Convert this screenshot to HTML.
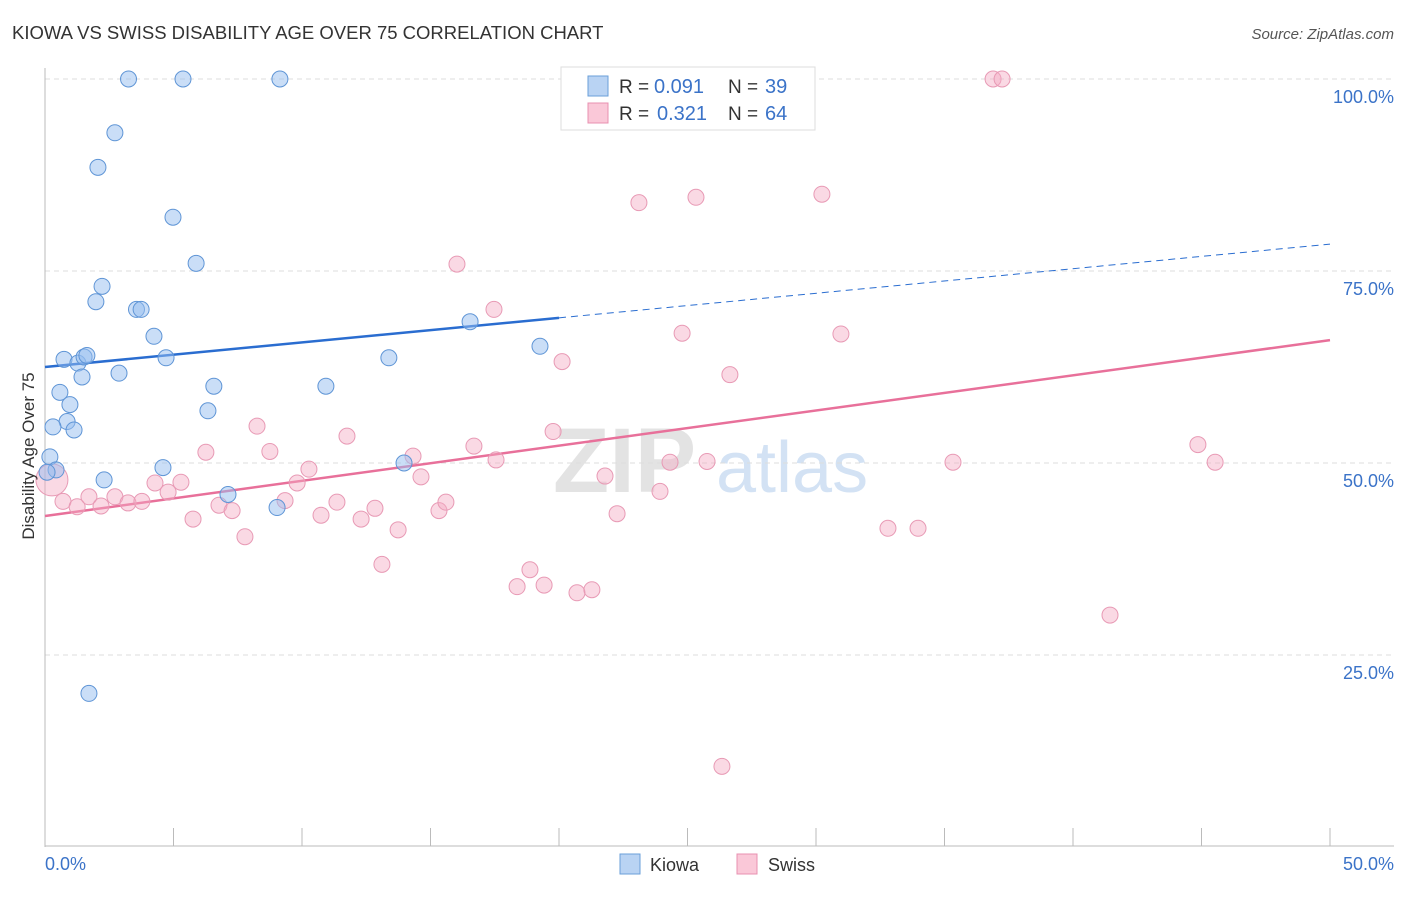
<!DOCTYPE html>
<html><head><meta charset="utf-8"><style>
body{margin:0;background:#fff;font-family:"Liberation Sans",sans-serif;}
svg text{font-family:"Liberation Sans",sans-serif;}
</style></head><body>
<svg id="chart" width="1406" height="892">
<text x="12" y="39" font-size="18.5" fill="#333">KIOWA VS SWISS DISABILITY AGE OVER 75 CORRELATION CHART</text>
<text x="1394" y="39" font-size="15" fill="#555" text-anchor="end" font-style="italic">Source: ZipAtlas.com</text>
<g>
<text x="553" y="492" font-size="92" fill="#ddd" font-family="Liberation Serif" font-weight="bold" opacity="0.8">ZIP</text>
<text x="716" y="492" font-size="72" fill="#c9dcf2" opacity="0.8">atlas</text>
</g>
<g id="grid"></g>
<g id="axes"></g>
<g id="trend"></g>
<g id="pts"></g>
<text x="0" y="0" transform="translate(34,456) rotate(-90)" font-size="17" fill="#333" text-anchor="middle">Disability Age Over 75</text>
<text x="45" y="870" font-size="18" fill="#3b73c8">0.0%</text>
<text x="1394" y="870" font-size="18" fill="#3b73c8" text-anchor="end">50.0%</text>
<g>
<rect x="561" y="67" width="254" height="63" fill="#fff" stroke="#ddd"/>
<rect x="588" y="76" width="20" height="20" fill="#b9d3f3" stroke="#6a9fd8"/>
<rect x="588" y="103" width="20" height="20" fill="#fac8d8" stroke="#e890b0"/>
<text x="619" y="93" font-size="19" fill="#333">R =</text>
<text x="654" y="93" font-size="20" fill="#3b73c8">0.091</text>
<text x="728" y="93" font-size="19" fill="#333">N =</text>
<text x="765" y="93" font-size="20" fill="#3b73c8">39</text>
<text x="619" y="120" font-size="19" fill="#333">R =</text>
<text x="657" y="120" font-size="20" fill="#3b73c8">0.321</text>
<text x="728" y="120" font-size="19" fill="#333">N =</text>
<text x="765" y="120" font-size="20" fill="#3b73c8">64</text>
</g>
<g>
<rect x="620" y="854" width="20" height="20" fill="#b9d3f3" stroke="#6a9fd8"/>
<text x="650" y="871" font-size="18" fill="#333">Kiowa</text>
<rect x="737" y="854" width="20" height="20" fill="#fac8d8" stroke="#e890b0"/>
<text x="768" y="871" font-size="18" fill="#333">Swiss</text>
</g>
</svg>
<script>
const yTicks=[25,50,75,100];
const xTicks=[0,5,10,15,20,25,30,35,40,45,50];
const kiowaX=[3.25,5.37,9.14,2.72,2.06,4.98,5.88,2.22,1.98,3.56,3.74,4.24,0.74,1.28,1.52,1.63,4.71,2.88,1.44,0.58,0.97,6.57,6.34,10.93,13.38,16.54,19.26,0.86,0.31,1.13,0.19,0.43,0.08,4.59,2.30,13.97,7.12,9.03,1.71];
const kiowaY=[100,100,100,93,88.5,82,76,73,71,70,70,66.5,63.5,63,63.8,64,63.7,61.7,61.2,59.2,57.6,60,56.8,60,63.7,68.4,65.2,55.4,54.7,54.3,50.8,49.1,48.8,49.4,47.8,50,45.9,44.2,20];
const swissX=[0.27,0.70,1.25,1.71,2.18,2.72,3.23,3.77,4.28,4.79,5.29,5.76,6.26,6.77,7.28,7.78,8.25,8.75,9.34,9.81,10.27,10.74,11.36,11.75,12.30,12.84,13.11,13.74,14.32,14.63,15.33,15.60,16.03,16.69,17.47,17.55,18.37,18.87,19.42,19.77,20.12,20.70,21.28,21.79,22.26,23.11,23.93,24.32,24.79,25.33,25.76,26.34,26.65,27.51,30.23,30.97,32.80,33.97,35.33,36.89,37.24,41.44,44.86,45.53];
const swissY=[47.8,45,44.3,45.6,44.4,45.6,44.8,45,47.4,46.2,47.5,42.7,51.4,44.5,43.8,40.4,54.8,51.5,45.1,47.4,49.2,43.2,44.9,53.5,42.7,44.1,36.8,41.3,50.9,48.2,43.8,44.9,75.9,52.2,70,50.4,33.9,36.1,34.1,54.1,63.2,33.1,33.5,48.3,43.4,83.9,46.3,50.1,66.9,84.6,50.2,10.5,61.5,100,85,66.8,41.5,41.5,50.1,100,100,30.2,52.4,50.1];
const kiowaTrend=[62.5,78.5];
const swissTrend=[43.1,66.0];
const NS="http://www.w3.org/2000/svg";
const X=v=>45+v*25.7, Y=v=>847-v*7.68;
function mk(tag,attrs,parent){const e=document.createElementNS(NS,tag);for(const k in attrs)e.setAttribute(k,attrs[k]);parent.appendChild(e);return e;}
const grid=document.getElementById('grid'),axes=document.getElementById('axes'),trend=document.getElementById('trend'),pts=document.getElementById('pts');
yTicks.forEach(t=>{
 const l=mk('line',{x1:45,x2:1394,y1:Y(t),y2:Y(t),stroke:'#ddd','stroke-dasharray':'5,4'},grid);
 
 
 const tx=mk('text',{x:1394,y:Y(t)+24,'font-size':18,fill:'#3b73c8','text-anchor':'end'},grid);
 tx.textContent=t.toFixed(1)+'%';
 
 
});
mk('line',{x1:45,x2:45,y1:68,y2:847,stroke:'#bbb'},axes);
mk('line',{x1:45,x2:1394,y1:846,y2:846,stroke:'#bbb'},axes);
xTicks.forEach(t=>{
 const l=mk('line',{x1:X(t),x2:X(t),y1:828,y2:846,stroke:'#bbb'},axes);
 
 
});
const kx=20;
let l1=mk('line',{x1:X(0),y1:Y(kiowaTrend[0]),x2:X(kx),y2:Y(kiowaTrend[0]+(kiowaTrend[1]-kiowaTrend[0])*kx/50),stroke:'#2a6dd0','stroke-width':2.5},trend);


let l2=mk('line',{x1:X(kx),y1:Y(kiowaTrend[0]+(kiowaTrend[1]-kiowaTrend[0])*kx/50),x2:X(50),y2:Y(kiowaTrend[1]),stroke:'#2a6dd0','stroke-width':1,'stroke-dasharray':'7,5'},trend);


let l3=mk('line',{x1:X(0),y1:Y(swissTrend[0]),x2:X(50),y2:Y(swissTrend[1]),stroke:'#e8709a','stroke-width':2.5},trend);


swissX.forEach((x,i)=>{
 const c=mk('circle',{cx:X(x),cy:Y(swissY[i]),r:i==0?16:8,fill:'rgba(245,170,196,0.45)',stroke:'#e89ab5','stroke-width':1},pts);
 
 
});
kiowaX.forEach((x,i)=>{
 const c=mk('circle',{cx:X(x),cy:Y(kiowaY[i]),r:8,fill:'rgba(150,190,240,0.5)',stroke:'#5f95d6','stroke-width':1},pts);
 
 
});
</script>
</body></html>
